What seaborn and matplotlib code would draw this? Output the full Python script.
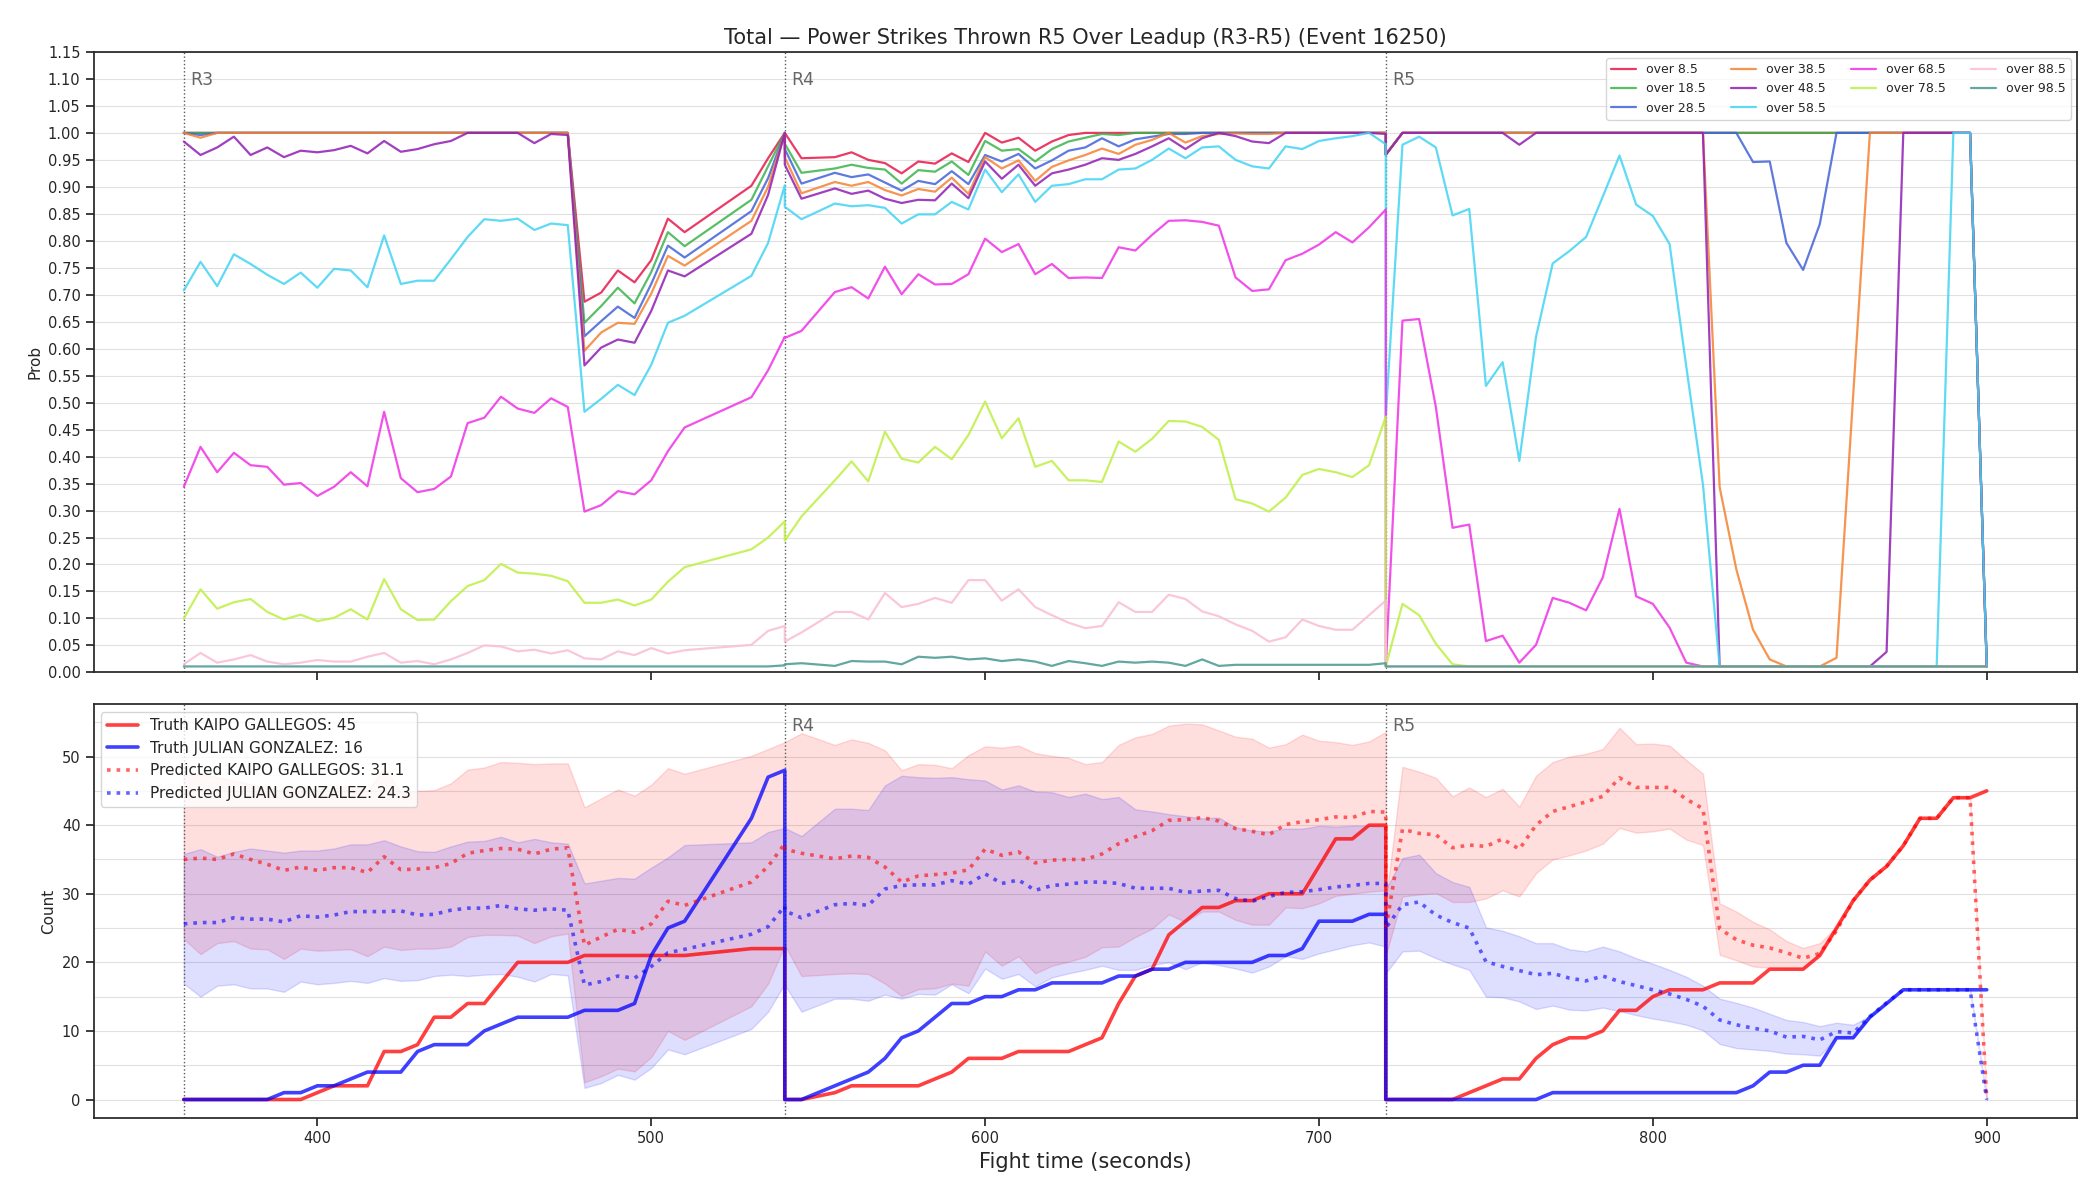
import numpy as np
import pandas as pd
import seaborn as sns
import matplotlib.pyplot as plt
import matplotlib.ticker as mticker

# time grid: R3 has a gap 515-525, R4 has no sample at 550,
# the boundaries 540 and 720 appear twice (end of round / start of next)
t_r3 = list(range(360, 515, 5)) + [530, 535, 540]
t_r4 = [540, 545] + list(range(555, 725, 5))
t_r5 = list(range(720, 905, 5))
times = t_r3 + t_r4 + t_r5

rounds = [(360, 'R3'), (540, 'R4'), (720, 'R5')]

# ---- top panel: P(total > line) ----
over_labels = ['over 8.5', 'over 18.5', 'over 28.5', 'over 38.5', 'over 48.5',
               'over 58.5', 'over 68.5', 'over 78.5', 'over 88.5', 'over 98.5']
over_colors = ['#e6194B', '#3cb44b', '#4363d8', '#f58231', '#911eb4',
               '#42d4f4', '#f032e6', '#bfef45', '#fabed4', '#469990']

over_8_5 = [
    # R3
    1.0, 1.0, 1.0, 1.0, 1.0, 1.0, 1.0, 1.0, 1.0, 1.0, 1.0, 1.0,
    1.0, 1.0, 1.0, 1.0, 1.0, 1.0, 1.0, 1.0, 1.0, 1.0, 1.0, 1.0,
    0.687, 0.704, 0.745, 0.723, 0.764, 0.841, 0.816, 0.902, 0.953, 1.0,
    # R4
    1.0, 0.953, 0.955, 0.964, 0.95, 0.944, 0.925, 0.947, 0.943, 0.962, 0.946, 1.0,
    0.982, 0.991, 0.967, 0.984, 0.996,
    1.0, 1.0, 1.0, 1.0, 1.0, 1.0, 1.0, 1.0, 1.0, 1.0, 1.0, 1.0, 1.0, 1.0, 1.0, 1.0, 1.0, 1.0, 1.0,
    # R5
    0.96,
    1.0, 1.0, 1.0, 1.0, 1.0, 1.0, 1.0, 1.0, 1.0, 1.0, 1.0, 1.0,
    1.0, 1.0, 1.0, 1.0, 1.0, 1.0, 1.0, 1.0, 1.0, 1.0, 1.0, 1.0,
    1.0, 1.0, 1.0, 1.0, 1.0, 1.0, 1.0, 1.0, 1.0, 1.0, 1.0,
    0.011,
]
over_18_5 = [
    1.0, 1.0, 1.0, 1.0, 1.0, 1.0, 1.0, 1.0, 1.0, 1.0, 1.0, 1.0,
    1.0, 1.0, 1.0, 1.0, 1.0, 1.0, 1.0, 1.0, 1.0, 1.0, 1.0, 1.0,
    0.648, 0.679, 0.713, 0.684, 0.742, 0.816, 0.79, 0.876, 0.938, 1.0,
    0.98, 0.926, 0.934, 0.941, 0.935, 0.932, 0.906, 0.931, 0.928, 0.947, 0.922, 0.985,
    0.967, 0.97, 0.947, 0.97, 0.984, 0.991, 0.998, 0.996,
    1.0, 1.0, 1.0, 1.0, 1.0, 1.0, 1.0, 1.0, 1.0, 1.0, 1.0, 1.0, 1.0, 1.0, 1.0, 1.0,
    0.96,
    1.0, 1.0, 1.0, 1.0, 1.0, 1.0, 1.0, 1.0, 1.0, 1.0, 1.0, 1.0,
    1.0, 1.0, 1.0, 1.0, 1.0, 1.0, 1.0, 1.0, 1.0, 1.0, 1.0, 1.0,
    1.0, 1.0, 1.0, 1.0, 1.0, 1.0, 1.0, 1.0, 1.0, 1.0, 1.0,
    0.011,
]
over_28_5 = [
    1.0, 0.996, 1.0, 1.0, 1.0, 1.0, 1.0, 1.0, 1.0, 1.0, 1.0, 1.0,
    1.0, 1.0, 1.0, 1.0, 1.0, 1.0, 1.0, 1.0, 1.0, 1.0, 1.0, 1.0,
    0.623, 0.651, 0.678, 0.657, 0.72, 0.791, 0.769, 0.855, 0.916, 1.0,
    0.97, 0.906, 0.926, 0.918, 0.923, 0.908, 0.893, 0.911, 0.905, 0.929, 0.905, 0.959,
    0.947, 0.961, 0.934, 0.949, 0.967, 0.973, 0.99, 0.975, 0.988, 0.993, 0.998, 0.998,
    1.0, 1.0, 1.0, 1.0, 1.0, 1.0, 1.0, 1.0, 1.0, 1.0, 1.0, 1.0,
    0.96,
    1.0, 1.0, 1.0, 1.0, 1.0, 1.0, 1.0, 1.0, 1.0, 1.0, 1.0, 1.0,
    1.0, 1.0, 1.0, 1.0, 1.0, 1.0, 1.0, 1.0, 1.0,
    0.946, 0.947, 0.796, 0.746, 0.831,
    1.0, 1.0, 1.0, 1.0, 1.0, 1.0, 1.0, 1.0, 1.0,
    0.011,
]
over_38_5 = [
    1.0, 0.991, 1.0, 1.0, 1.0, 1.0, 1.0, 1.0, 1.0, 1.0, 1.0, 1.0,
    1.0, 1.0, 1.0, 1.0, 1.0, 1.0, 1.0, 1.0, 1.0, 1.0, 1.0, 1.0,
    0.596, 0.63, 0.648, 0.646, 0.702, 0.772, 0.754, 0.837, 0.90, 1.0,
    0.955, 0.888, 0.909, 0.902, 0.909, 0.894, 0.884, 0.896, 0.891, 0.917, 0.887, 0.955,
    0.934, 0.949, 0.911, 0.937, 0.949, 0.959, 0.971, 0.961, 0.978, 0.987, 1.0, 0.982,
    0.994, 0.998, 0.999, 0.998, 0.998, 1.0, 1.0, 1.0, 1.0, 1.0, 1.0, 1.0,
    0.96,
    1.0, 1.0, 1.0, 1.0, 1.0, 1.0, 1.0, 1.0, 1.0, 1.0, 1.0, 1.0,
    1.0, 1.0, 1.0, 1.0, 1.0, 1.0, 1.0,
    0.343, 0.191, 0.079, 0.024, 0.011, 0.011, 0.011, 0.027, 0.514,
    1.0, 1.0, 1.0, 1.0, 1.0, 1.0, 1.0,
    0.011,
]
over_48_5 = [
    0.984, 0.959, 0.973, 0.993, 0.959, 0.973, 0.955, 0.967, 0.964, 0.968, 0.976, 0.962,
    0.985, 0.965, 0.970, 0.979, 0.985, 1.0, 1.0, 1.0, 1.0, 0.981, 0.998, 0.996,
    0.569, 0.602, 0.617, 0.611, 0.67, 0.745, 0.734, 0.813, 0.885, 1.0,
    0.941, 0.878, 0.897, 0.887, 0.893, 0.878, 0.87, 0.876, 0.875, 0.906, 0.879, 0.947,
    0.915, 0.941, 0.902, 0.925, 0.932, 0.941, 0.953, 0.95, 0.961, 0.975, 0.99, 0.97,
    0.99, 1.0, 0.994, 0.984, 0.981, 1.0, 1.0, 1.0, 1.0, 1.0, 1.0, 0.998,
    0.959, 1.0, 1.0, 1.0, 1.0, 1.0, 1.0, 1.0, 0.978,
    1.0, 1.0, 1.0, 1.0, 1.0, 1.0, 1.0, 1.0, 1.0, 1.0, 1.0,
    0.011, 0.011, 0.011, 0.011, 0.011, 0.011, 0.011, 0.011, 0.011, 0.011, 0.038,
    1.0, 1.0, 1.0, 1.0, 1.0,
    0.011,
]
over_58_5 = [
    0.708, 0.761, 0.716, 0.775, 0.757, 0.737, 0.72, 0.741, 0.713, 0.748, 0.745, 0.714,
    0.81, 0.72, 0.726, 0.726, 0.766, 0.807, 0.84, 0.837, 0.841, 0.82, 0.832, 0.829,
    0.483, 0.507, 0.533, 0.514, 0.57, 0.648, 0.661, 0.735, 0.796, 0.903,
    0.863, 0.84, 0.869, 0.864, 0.866, 0.861, 0.832, 0.849, 0.849, 0.872, 0.858, 0.932,
    0.89, 0.923, 0.872, 0.902, 0.905, 0.914, 0.914, 0.932, 0.934, 0.95, 0.971, 0.953,
    0.973, 0.975, 0.95, 0.938, 0.934, 0.975, 0.97, 0.985, 0.99, 0.994, 1.0, 0.979,
    0.474, 0.978, 0.993, 0.973, 0.847, 0.859, 0.531, 0.575, 0.392, 0.622, 0.758, 0.781,
    0.807, 0.882, 0.958, 0.867, 0.846, 0.794, 0.567, 0.348,
    0.011, 0.011, 0.011, 0.011, 0.011, 0.011, 0.011, 0.011, 0.011, 0.011, 0.011, 0.011,
    0.011, 0.011, 1.0, 1.0, 0.011,
]
over_68_5 = [
    0.344, 0.418, 0.371, 0.407, 0.384, 0.381, 0.348, 0.351, 0.327, 0.344, 0.371, 0.345,
    0.483, 0.36, 0.334, 0.34, 0.363, 0.462, 0.472, 0.511, 0.489, 0.481, 0.508, 0.492,
    0.298, 0.31, 0.336, 0.33, 0.356, 0.41, 0.454, 0.51, 0.56, 0.622,
    0.62, 0.633, 0.705, 0.714, 0.693, 0.752, 0.701, 0.738, 0.719, 0.72, 0.738, 0.804,
    0.779, 0.794, 0.738, 0.757, 0.731, 0.732, 0.731, 0.788, 0.782, 0.811, 0.837, 0.838,
    0.835, 0.828, 0.732, 0.707, 0.71, 0.764, 0.776, 0.793, 0.816, 0.797, 0.825, 0.858,
    0.011, 0.652, 0.655, 0.492, 0.268, 0.274, 0.058, 0.068, 0.018, 0.051, 0.138, 0.129,
    0.115, 0.176, 0.303, 0.141, 0.127, 0.083, 0.018,
    0.011, 0.011, 0.011, 0.011, 0.011, 0.011, 0.011, 0.011, 0.011, 0.011, 0.011, 0.011,
    0.011, 0.011, 0.011, 0.011, 0.011, 0.011,
]
over_78_5 = [
    0.10, 0.154, 0.118, 0.13, 0.136, 0.112, 0.098, 0.107, 0.095, 0.101, 0.117, 0.098,
    0.173, 0.117, 0.097, 0.098, 0.132, 0.16, 0.171, 0.201, 0.185, 0.183, 0.179, 0.169,
    0.129, 0.129, 0.135, 0.124, 0.135, 0.168, 0.195, 0.228, 0.25, 0.28,
    0.244, 0.289, 0.356, 0.391, 0.354, 0.446, 0.396, 0.389, 0.418, 0.395, 0.44, 0.502,
    0.434, 0.471, 0.381, 0.392, 0.356, 0.356, 0.353, 0.428, 0.409, 0.433, 0.466, 0.465,
    0.455, 0.431, 0.321, 0.313, 0.298, 0.324, 0.366, 0.377, 0.371, 0.362, 0.384, 0.474,
    0.011, 0.127, 0.106, 0.053, 0.015,
    0.011, 0.011, 0.011, 0.011, 0.011, 0.011, 0.011, 0.011, 0.011, 0.011, 0.011, 0.011,
    0.011, 0.011, 0.011, 0.011, 0.011, 0.011, 0.011, 0.011, 0.011, 0.011, 0.011, 0.011,
    0.011, 0.011, 0.011, 0.011, 0.011, 0.011, 0.011, 0.011,
]
over_88_5 = [
    0.015, 0.036, 0.018, 0.024, 0.032, 0.02, 0.015, 0.018, 0.023, 0.02, 0.02, 0.029,
    0.036, 0.018, 0.021, 0.015, 0.024, 0.036, 0.05, 0.048, 0.039, 0.042, 0.035, 0.041,
    0.026, 0.024, 0.039, 0.032, 0.045, 0.035, 0.041, 0.051, 0.077, 0.086,
    0.057, 0.074, 0.112, 0.112, 0.098, 0.147, 0.121, 0.127, 0.138, 0.129, 0.171, 0.171,
    0.133, 0.154, 0.121, 0.106, 0.092, 0.082, 0.086, 0.13, 0.112, 0.112, 0.144, 0.136,
    0.113, 0.104, 0.089, 0.077, 0.057, 0.065, 0.098, 0.086, 0.079, 0.079, 0.106, 0.133,
    0.011, 0.011, 0.011, 0.011, 0.011, 0.011, 0.011, 0.011, 0.011, 0.011, 0.011, 0.011,
    0.011, 0.011, 0.011, 0.011, 0.011, 0.011, 0.011, 0.011, 0.011, 0.011, 0.011, 0.011,
    0.011, 0.011, 0.011, 0.011, 0.011, 0.011, 0.011, 0.011, 0.011, 0.011, 0.011, 0.011,
    0.011,
]
over_98_5 = [
    0.011, 0.011, 0.011, 0.011, 0.011, 0.011, 0.011, 0.011, 0.011, 0.011, 0.011, 0.011,
    0.011, 0.011, 0.011, 0.011, 0.011, 0.011, 0.011, 0.011, 0.011, 0.011, 0.011, 0.011,
    0.011, 0.011, 0.011, 0.011, 0.011, 0.011, 0.011, 0.011, 0.011, 0.013,
    0.015, 0.017, 0.012, 0.021, 0.02, 0.02, 0.015, 0.029, 0.027, 0.029, 0.024, 0.026,
    0.021, 0.024, 0.02, 0.012, 0.021, 0.017, 0.012, 0.02, 0.018, 0.02, 0.018, 0.012,
    0.024, 0.012, 0.014, 0.014, 0.014, 0.014, 0.014, 0.014, 0.014, 0.014, 0.014, 0.017,
    0.011, 0.011, 0.011, 0.011, 0.011, 0.011, 0.011, 0.011, 0.011, 0.011, 0.011, 0.011,
    0.011, 0.011, 0.011, 0.011, 0.011, 0.011, 0.011, 0.011, 0.011, 0.011, 0.011, 0.011,
    0.011, 0.011, 0.011, 0.011, 0.011, 0.011, 0.011, 0.011, 0.011, 0.011, 0.011, 0.011,
    0.011,
]
over_series = [over_8_5, over_18_5, over_28_5, over_38_5, over_48_5,
               over_58_5, over_68_5, over_78_5, over_88_5, over_98_5]

# ---- bottom panel: cumulative counts ----
truth_kaipo = [
    0, 0, 0, 0, 0, 0, 0, 0, 1, 2, 2, 2, 7, 7, 8, 12, 12, 14, 14, 17, 20, 20, 20, 20,
    21, 21, 21, 21, 21, 21, 21, 22, 22, 22,
    0, 0, 1, 2, 2, 2, 2, 2, 3, 4, 6, 6, 6, 7, 7, 7, 7, 8, 9, 14, 18, 19, 24, 26,
    28, 28, 29, 29, 30, 30, 30, 34, 38, 38, 40, 40,
    0, 0, 0, 0, 0, 1, 2, 3, 3, 6, 8, 9, 9, 10, 13, 13, 15, 16, 16, 16, 17, 17, 17, 19,
    19, 19, 21, 25, 29, 32, 34, 37, 41, 41, 44, 44, 45,
]
truth_julian = [
    0, 0, 0, 0, 0, 0, 1, 1, 2, 2, 3, 4, 4, 4, 7, 8, 8, 8, 10, 11, 12, 12, 12, 12,
    13, 13, 13, 14, 21, 25, 26, 41, 47, 48,
    0, 0, 2, 3, 4, 6, 9, 10, 12, 14, 14, 15, 15, 16, 16, 17, 17, 17, 17, 18, 18, 19, 19, 20,
    20, 20, 20, 20, 21, 21, 22, 26, 26, 26, 27, 27,
    0, 0, 0, 0, 0, 0, 0, 0, 0, 0, 1, 1, 1, 1, 1, 1, 1, 1, 1, 1, 1, 1,
    2, 4, 4, 5, 5, 9, 9, 12, 14, 16, 16, 16, 16, 16, 16,
]
pred_kaipo = [
    35.0, 35.2, 35.0, 35.8, 35.0, 34.3, 33.4, 33.9, 33.4, 33.8, 33.8, 33.1,
    35.4, 33.5, 33.6, 33.8, 34.4, 35.9, 36.3, 36.6, 36.5, 35.8, 36.5, 36.7,
    22.5, 23.7, 24.8, 24.4, 25.6, 28.9, 28.3, 31.7, 34.0, 37.3,
    36.5, 35.9, 35.1, 35.5, 35.3, 33.9, 31.7, 32.6, 32.8, 33.0, 33.5, 36.5,
    35.6, 36.1, 34.5, 34.9, 35.0, 35.0, 35.8, 37.3, 38.3, 39.2, 40.7, 40.8,
    41.1, 40.6, 39.5, 39.1, 38.6, 40.1, 40.5, 40.8, 41.2, 41.1, 42.0, 41.9,
    24.8, 39.4, 38.8, 38.6, 36.7, 37.1, 36.9, 38.0, 36.5, 40.0, 42.0, 42.7,
    43.4, 44.2, 46.9, 45.5, 45.5, 45.5, 43.8, 42.4, 24.9, 23.3, 22.5, 22.1,
    21.4, 20.6, 21.3, 24.6, 29.0, 32.0, 34.0, 37.0, 41.0, 41.0, 44.0, 44.0, 0.0,
]
pred_julian = [
    25.6, 25.8, 25.8, 26.5, 26.3, 26.3, 25.9, 26.8, 26.6, 26.9, 27.4, 27.4,
    27.4, 27.5, 26.9, 27.0, 27.6, 27.9, 27.9, 28.3, 27.8, 27.6, 27.8, 27.6,
    16.7, 17.2, 18.0, 17.7, 19.4, 21.4, 21.9, 24.1, 25.2, 28.2,
    27.5, 26.5, 28.4, 28.6, 28.3, 30.7, 31.2, 31.3, 31.3, 31.9, 31.4, 32.9,
    31.5, 32.0, 30.5, 31.2, 31.4, 31.7, 31.7, 31.5, 30.8, 30.8, 30.8, 30.2,
    30.4, 30.5, 29.3, 28.9, 29.6, 30.2, 30.3, 30.6, 31.0, 31.2, 31.5, 31.5,
    25.0, 28.4, 28.8, 26.9, 25.8, 25.0, 20.1, 19.4, 18.8, 18.2, 18.4, 17.7,
    17.3, 18.0, 17.2, 16.6, 16.0, 15.4, 14.6, 13.6, 11.6, 10.9, 10.4, 10.0,
    9.1, 9.2, 8.7, 9.9, 9.7, 12.1, 14.1, 16.0, 16.0, 16.0, 16.0, 16.0, 0.0,
]
kaipo_hi = [
    47.3, 47.5, 47.0, 46.5, 46.0, 45.5, 45.0, 45.5, 45.2, 45.4, 45.8, 45.0,
    48.3, 44.8, 45.0, 45.1, 46.1, 48.1, 48.4, 49.2, 49.1, 48.9, 49.0, 49.0,
    42.6, 43.9, 45.2, 44.3, 45.9, 48.3, 47.5, 50.1, 51.1, 52.1,
    52.1, 53.4, 51.7, 52.5, 52.0, 50.9, 48.0, 48.9, 48.8, 48.3, 50.2, 51.5,
    51.3, 51.6, 50.5, 50.1, 49.8, 48.9, 49.2, 51.7, 52.8, 53.3, 54.5, 54.8,
    54.7, 53.8, 52.9, 52.6, 51.3, 51.8, 53.2, 52.3, 52.1, 51.7, 52.2, 53.6,
    29.0, 48.5, 47.8, 46.9, 44.2, 45.5, 44.1, 45.3, 42.7, 47.2, 49.2, 50.0,
    50.4, 51.1, 54.2, 51.8, 51.9, 51.6, 49.5, 47.5, 28.6, 27.4, 25.9, 24.8,
    23.1, 22.1, 22.8, 25.2, 29.0, 32.0, 34.0, 37.0, 41.0, 41.0, 44.0, 44.0, 0.0,
]
kaipo_lo = [
    23.4, 21.2, 22.8, 23.1, 22.0, 21.9, 20.5, 22.0, 21.7, 21.8, 21.9, 20.9,
    22.3, 21.8, 22.0, 22.0, 22.3, 23.7, 24.0, 24.0, 23.9, 22.8, 23.8, 24.2,
    2.5, 3.4, 4.5, 4.1, 6.2, 10.0, 8.7, 13.6, 16.9, 22.5,
    22.5, 18.0, 18.3, 18.4, 18.3, 16.9, 15.1, 16.1, 16.2, 16.9, 16.6, 21.6,
    19.5, 20.9, 18.4, 19.5, 20.1, 20.8, 22.2, 22.3, 23.7, 24.9, 27.0, 25.9,
    27.4, 27.4, 26.2, 25.5, 25.5, 28.0, 27.9, 28.6, 29.7, 30.0, 30.3, 30.5,
    21.0, 29.6, 29.9, 30.1, 28.8, 28.8, 29.3, 30.5, 29.6, 33.0, 35.0, 35.6,
    36.3, 37.3, 39.6, 38.9, 39.1, 39.5, 37.9, 37.1, 21.1, 20.3, 19.4, 19.2,
    19.1, 19.1, 21.2, 24.8, 29.0, 32.0, 34.0, 37.0, 41.0, 41.0, 44.0, 44.0, 0.0,
]
julian_hi = [
    35.8, 36.5, 35.4, 36.1, 36.6, 36.3, 36.0, 36.3, 36.3, 36.6, 37.2, 37.2,
    37.8, 36.9, 36.2, 36.1, 36.9, 37.6, 37.7, 38.3, 37.5, 38.0, 37.5, 37.3,
    31.5, 31.9, 32.3, 32.2, 33.8, 35.3, 37.1, 37.5, 39.0, 39.6,
    39.6, 38.4, 42.4, 42.4, 42.2, 45.8, 47.2, 47.0, 46.9, 47.0, 46.7, 46.5,
    45.2, 45.8, 44.9, 44.8, 44.1, 44.6, 43.8, 44.1, 42.3, 42.0, 41.6, 41.3,
    41.0, 41.1, 39.7, 39.2, 39.1, 39.5, 39.5, 39.9, 39.8, 39.9, 39.9, 39.7,
    30.6, 35.2, 35.7, 33.0, 31.7, 31.0, 25.1, 24.6, 23.8, 22.8, 22.8, 21.9,
    21.6, 22.3, 21.6, 20.6, 19.8, 18.9, 17.9, 16.6, 14.7, 14.1, 13.4, 12.5,
    11.6, 11.3, 10.7, 11.2, 10.9, 12.2, 14.1, 16.0, 16.0, 16.0, 16.0, 16.0, 0.0,
]
julian_lo = [
    16.9, 15.0, 16.6, 16.8, 16.2, 16.2, 15.7, 17.2, 16.8, 17.0, 17.3, 17.0,
    17.7, 17.3, 17.4, 18.0, 18.2, 18.0, 18.2, 18.3, 17.9, 17.2, 18.3, 18.1,
    1.7, 2.4, 3.6, 2.9, 4.6, 7.3, 6.6, 10.3, 12.8, 16.9,
    16.7, 12.8, 14.7, 14.7, 14.4, 15.3, 14.7, 15.4, 15.3, 16.8, 15.5, 19.1,
    17.6, 18.3, 16.5, 17.8, 18.4, 18.9, 19.5, 18.9, 18.9, 19.6, 20.0, 19.0,
    20.0, 19.6, 19.1, 18.5, 19.4, 20.9, 20.5, 21.3, 21.9, 22.5, 22.9, 22.3,
    18.4, 21.6, 21.7, 20.6, 19.7, 18.9, 15.0, 14.9, 14.3, 13.2, 13.7, 13.1,
    13.0, 13.4, 12.9, 12.3, 11.8, 11.4, 10.9, 10.1, 8.1, 7.5, 7.3, 7.1,
    6.7, 6.6, 6.4, 9.1, 9.0, 12.0, 14.1, 16.0, 16.0, 16.0, 16.0, 16.0, 0.0,
]

sns.set_theme(style='ticks')
plt.rcParams['font.family'] = ['DejaVu Sans']

fig, (ax_top, ax_bot) = plt.subplots(2, 1, figsize=(21, 12), sharex=True,
                                     gridspec_kw={'height_ratios': [3, 2]})
fig.subplots_adjust(left=0.0446, right=0.989, top=0.9567, bottom=0.0683, hspace=0.062)

# top: probability lines
for name, vals, color in zip(over_labels, over_series, over_colors):
    sns.lineplot(x=times, y=vals, color=color, label=name, lw=1.6, alpha=0.85,
                 estimator=None, sort=False, ax=ax_top)

ax_top.set_ylim(0, 1.15)
ax_top.set_yticks(np.arange(0, 1.151, 0.05))
ax_top.yaxis.set_major_formatter(mticker.FormatStrFormatter('%.2f'))
ax_top.grid(axis='y', color='0.88', lw=0.8)
ax_top.set_axisbelow(True)
ax_top.set_ylabel('Prob', fontsize=11)
ax_top.set_xlabel('')
ax_top.tick_params(labelsize=10.5)
ax_top.legend(loc='upper right', ncol=4, fontsize=9.0)
ax_top.set_title('Total \u2014 Power Strikes Thrown R5 Over Leadup (R3-R5) (Event 16250)',
                 fontsize=15)

# bottom: truth vs predicted counts with bands
ax_bot.fill_between(times, kaipo_lo, kaipo_hi, color='red', alpha=0.13, lw=1)
ax_bot.fill_between(times, julian_lo, julian_hi, color='blue', alpha=0.13, lw=1)
sns.lineplot(x=times, y=truth_kaipo, color='red', alpha=0.75, lw=2.6,
             label='Truth KAIPO GALLEGOS: 45', estimator=None, sort=False, ax=ax_bot)
sns.lineplot(x=times, y=truth_julian, color='blue', alpha=0.75, lw=2.6,
             label='Truth JULIAN GONZALEZ: 16', estimator=None, sort=False, ax=ax_bot)
sns.lineplot(x=times, y=pred_kaipo, color='red', alpha=0.6, lw=2.6, linestyle=':',
             label='Predicted KAIPO GALLEGOS: 31.1', estimator=None, sort=False, ax=ax_bot)
sns.lineplot(x=times, y=pred_julian, color='blue', alpha=0.6, lw=2.6, linestyle=':',
             label='Predicted JULIAN GONZALEZ: 24.3', estimator=None, sort=False, ax=ax_bot)

ax_bot.set_ylim(-2.7, 57.6)
ax_bot.set_yticks([0, 10, 20, 30, 40, 50])
ax_bot.yaxis.set_minor_locator(mticker.MultipleLocator(5))
ax_bot.tick_params(which='minor', length=0)
ax_bot.grid(axis='y', which='both', color='0.88', lw=0.8)
ax_bot.set_axisbelow(True)
ax_bot.set_ylabel('Count', fontsize=11)
ax_bot.set_xlabel('Fight time (seconds)', fontsize=15)
ax_bot.tick_params(labelsize=10.5)
ax_bot.legend(loc='upper left', fontsize=11)

ax_bot.set_xlim(333, 927)
ax_bot.set_xticks([400, 500, 600, 700, 800, 900])

for ax in (ax_top, ax_bot):
    for x0, lab in rounds:
        ax.axvline(x0, color='0.35', ls=':', lw=1, zorder=1)
        # R3 in the lower panel sits under the legend in the original
        if ax is ax_bot and lab == 'R3':
            continue
        ax.text(x0 + 2, 0.97, lab, transform=ax.get_xaxis_transform(),
                ha='left', va='top', fontsize=12.5, color='0.4')

fig.savefig('out.png', dpi=100)
